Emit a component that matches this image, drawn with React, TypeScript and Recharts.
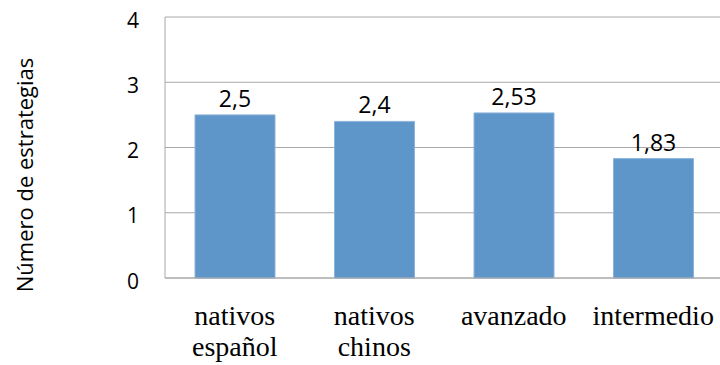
import React from 'react';
import { BarChart, Bar, XAxis, YAxis, CartesianGrid, LabelList } from 'recharts';

const categories = ['nativos español', 'nativos chinos', 'avanzado', 'intermedio'];
const strategies = [2.5, 2.4, 2.53, 1.83];
const yTicks = [0, 1, 2, 3, 4];

const data = categories.map((name, i) => ({ name, value: strategies[i] }));

const sansFont = '"Open Sans", "DejaVu Sans", sans-serif';
const serifFont = '"Liberation Serif", "DejaVu Serif", serif';
const gridColor = '#a8a8a8';

const toComma = (v: number | string) => String(v).replace('.', ',');

const CategoryTick = (props: any) => {
  const { x, y, payload } = props;
  const lines = String(payload.value).split(' ');
  return (
    <text x={x} y={y} textAnchor="middle" fontFamily={serifFont} fontSize={28} fill="#000">
      {lines.map((line, i) => (
        <tspan key={line} x={x} dy={i === 0 ? 39 : 31}>
          {line}
        </tspan>
      ))}
    </text>
  );
};

const ValueTick = (props: any) => {
  const { x, y, payload } = props;
  return (
    <text x={x} y={y} dy={10.5} textAnchor="end" fontFamily={sansFont} fontSize={21} fill="#000">
      {payload.value}
    </text>
  );
};

const AxisTitle = () => (
  <text
    x={24}
    y={175}
    transform="rotate(-90, 24, 175)"
    textAnchor="middle"
    dominantBaseline="central"
    fontFamily={sansFont}
    fontSize={22}
    fill="#000"
  >
    Número de estrategias
  </text>
);

const App = () => {
  return (
    <div
      style={{
        position: 'absolute',
        left: 0,
        top: 0,
        width: 720,
        height: 365,
        overflow: 'hidden',
        background: '#fff',
      }}
    >
      <BarChart
        width={740}
        height={365}
        data={data}
        margin={{ top: 17, right: 17, left: 0, bottom: 0 }}
      >
        <CartesianGrid vertical={false} stroke={gridColor} />
        <XAxis
          dataKey="name"
          height={87}
          axisLine={{ stroke: gridColor }}
          tickLine={false}
          tick={<CategoryTick />}
          interval={0}
        />
        <YAxis
          width={165}
          domain={[0, 4]}
          ticks={yTicks}
          axisLine={{ stroke: gridColor }}
          tickLine={false}
          tickSize={0}
          tickMargin={26}
          tick={<ValueTick />}
          label={<AxisTitle />}
        />
        <Bar
          dataKey="value"
          fill="#5f96ca"
          stroke="#8db3da"
          strokeWidth={1}
          barSize={80}
          isAnimationActive={false}
        >
          <LabelList
            dataKey="value"
            position="top"
            offset={8}
            formatter={toComma}
            fontFamily={sansFont}
            fontSize={23}
            fill="#000"
          />
        </Bar>
      </BarChart>
    </div>
  );
};

export default App;
